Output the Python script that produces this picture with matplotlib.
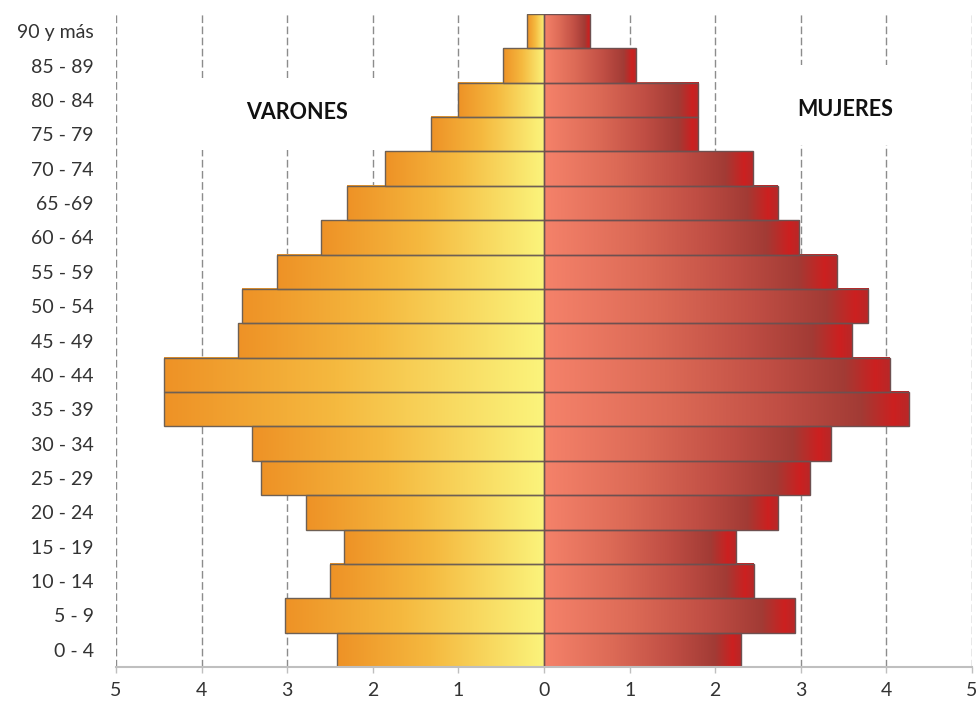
import numpy as np
import matplotlib
matplotlib.use("Agg")
import matplotlib.pyplot as plt
from matplotlib.colors import LinearSegmentedColormap
from matplotlib.patches import Rectangle

# age groups, bottom to top
grupos = ["0 - 4", "5 - 9", "10 - 14", "15 - 19", "20 - 24", "25 - 29", "30 - 34",
          "35 - 39", "40 - 44", "45 - 49", "50 - 54", "55 - 59", "60 - 64", "65 -69",
          "70 - 74", "75 - 79", "80 - 84", "85 - 89", "90 y más"]

# percentages
varones = [2.42, 3.03, 2.50, 2.34, 2.78, 3.31, 3.41, 4.44, 4.44, 3.57, 3.53,
           3.12, 2.60, 2.30, 1.86, 1.32, 1.00, 0.48, 0.20]
mujeres = [2.30, 2.93, 2.45, 2.24, 2.73, 3.11, 3.35, 4.26, 4.04, 3.60, 3.79,
           3.42, 2.98, 2.73, 2.44, 1.80, 1.80, 1.07, 0.54]

xticks = [-5, -4, -3, -2, -1, 0, 1, 2, 3, 4, 5]
xlabels = ["5", "4", "3", "2", "1", "0", "1", "2", "3", "4", "5"]

plt.rcParams['font.family'] = ['Lato', 'DejaVu Sans']

# gradients: centre side is the right end of the men map, left end of the women map
cm_var = LinearSegmentedColormap.from_list(
    "var", [(0, "#ee9226"), (0.45, "#f5b93f"), (1, "#fbf47c")])
cm_muj = LinearSegmentedColormap.from_list(
    "muj", [(0, "#f5826a"), (0.35, "#dc6a56"), (0.65, "#c04e44"), (0.87, "#a23b35"),
            (0.96, "#cc2020"), (1, "#b82828")])

fig = plt.figure(figsize=(9.77, 7.06), dpi=100)
ax = fig.add_axes([116 / 977, 1 - 667 / 706, (972 - 116) / 977, (667 - 14) / 706])

y = np.arange(len(grupos))
grad = np.linspace(0, 1, 256).reshape(1, -1)

for i in range(len(grupos)):
    ax.imshow(grad, cmap=cm_var, aspect='auto', zorder=2, interpolation='bilinear',
              extent=[-varones[i], 0, y[i] - 0.5, y[i] + 0.5])
    ax.imshow(grad, cmap=cm_muj, aspect='auto', zorder=2, interpolation='bilinear',
              extent=[0, mujeres[i], y[i] - 0.5, y[i] + 0.5])

ax.barh(y, [-v for v in varones], height=1.0, facecolor='none',
        edgecolor='#6e6054', linewidth=1.0, zorder=3)
ax.barh(y, mujeres, height=1.0, facecolor='none',
        edgecolor='#6e5050', linewidth=1.0, zorder=3)

# dashed gridlines
for xv in xticks:
    if xv == 0:
        continue
    ax.axvline(xv, color='#8c8c8c', linewidth=1.0, linestyle=(0, (5.5, 2.5)), zorder=1)

# white label boxes that cut the gridlines
ax.add_patch(Rectangle((-4.14, 14.54), 2.46, 2.1, facecolor='white',
                       edgecolor='none', zorder=1.5))
ax.add_patch(Rectangle((2.29, 14.69), 2.34, 2.33, facecolor='white',
                       edgecolor='none', zorder=1.5))
ax.text(-2.88, 15.62, "VARONES", ha='center', va='center', fontsize=15.5,
        fontweight='bold', color='#111111', zorder=1.6)
ax.text(3.52, 15.71, "MUJERES", ha='center', va='center', fontsize=15.5,
        fontweight='bold', color='#111111', zorder=1.6)

ax.set_xlim(-5, 5)
ax.set_ylim(-0.5, len(grupos) - 0.5)
ax.set_xticks(xticks)
ax.set_xticklabels(xlabels)
ax.set_yticks(y)
ax.set_yticklabels(grupos)

for s in ['top', 'right', 'left']:
    ax.spines[s].set_visible(False)
ax.spines['bottom'].set_color('#bfbfbf')
ax.spines['bottom'].set_linewidth(1.5)
ax.spines['bottom'].set_zorder(4)

ax.tick_params(axis='y', length=0, pad=16, labelsize=14, labelcolor='#333333')
ax.tick_params(axis='x', length=4, color='#bfbfbf', width=1, pad=7,
               labelsize=14, labelcolor='#333333')

fig.savefig("out.png", dpi=100)
